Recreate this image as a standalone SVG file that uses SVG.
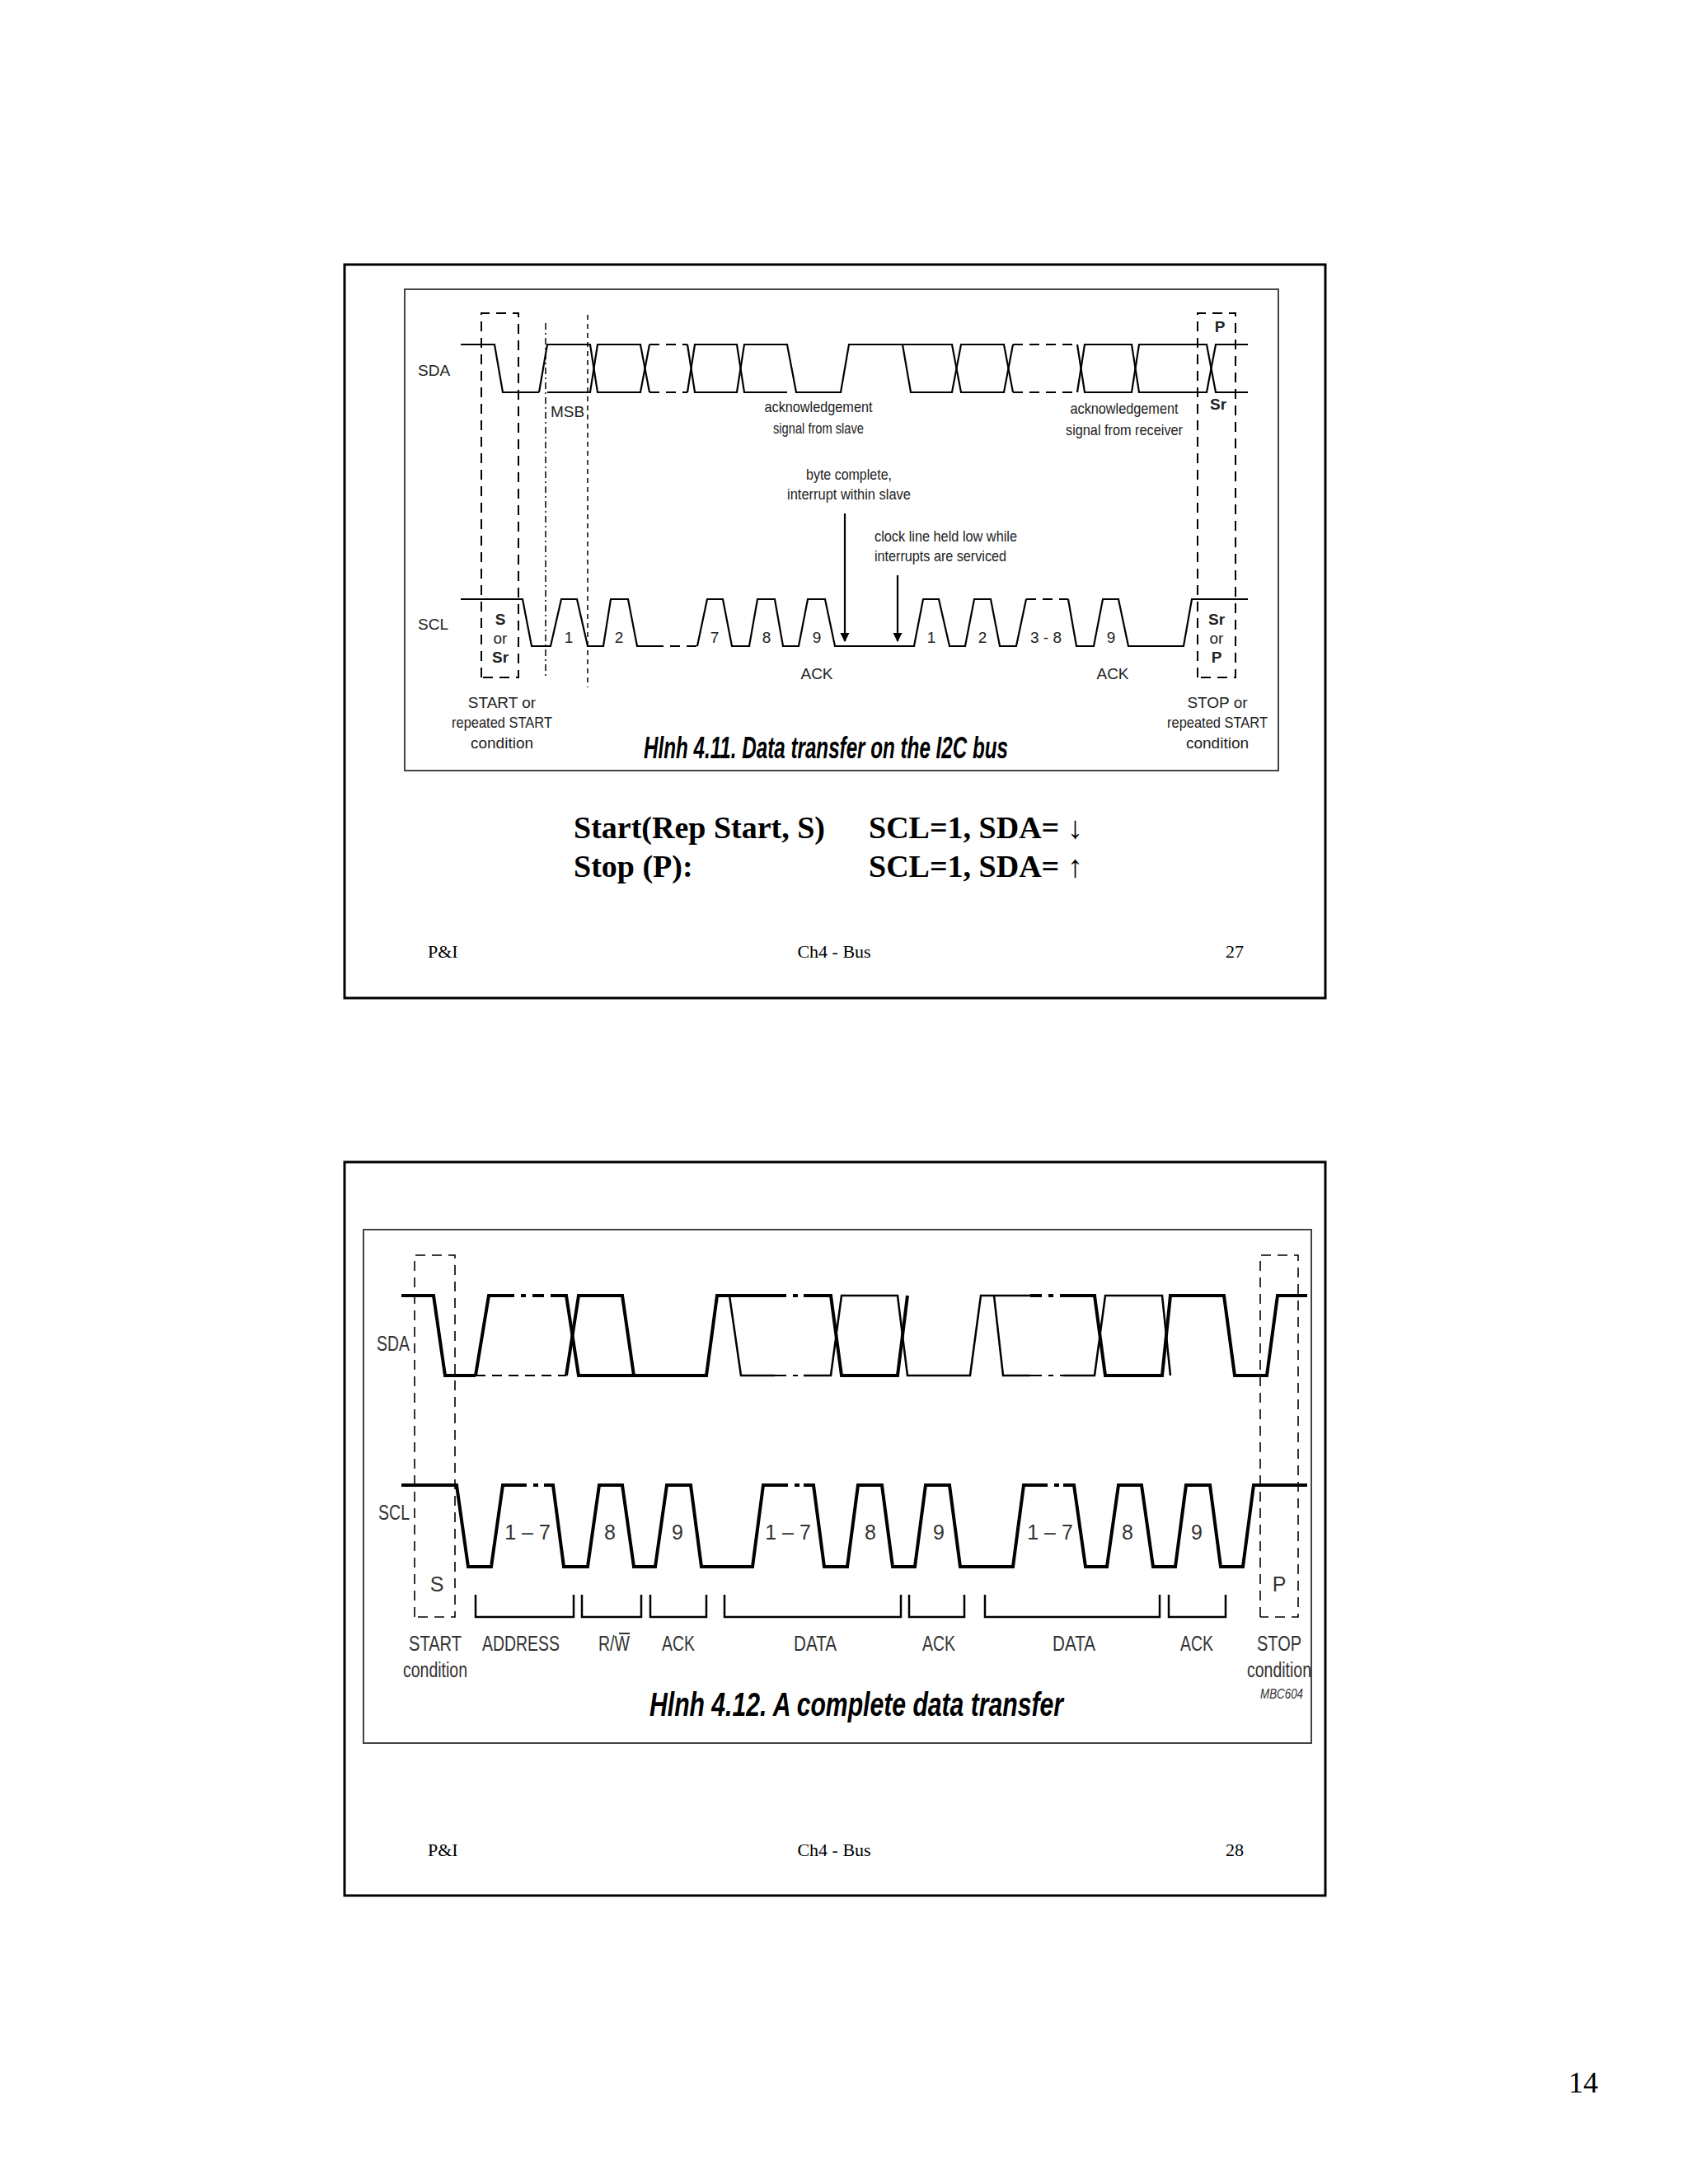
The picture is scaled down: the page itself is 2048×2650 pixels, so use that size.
<svg xmlns="http://www.w3.org/2000/svg" width="2048" height="2650" viewBox="0 0 2048 2650">
<style>
.frame{fill:none;stroke:#000;stroke-width:3}
.inner{fill:none;stroke:#444;stroke-width:2}
.sig{fill:none;stroke:#000;stroke-width:2.2}
.sigt{fill:none;stroke:#000;stroke-width:4}
.sigb{fill:none;stroke:#000;stroke-width:2.5}
.dash{fill:none;stroke:#000;stroke-width:2;stroke-dasharray:12 8}
.dashdot{fill:none;stroke:#000;stroke-width:1.5;stroke-dasharray:8 4 2 4}
.dot{fill:none;stroke:#000;stroke-width:1.5;stroke-dasharray:6 5}
.lbl{font-family:"Liberation Sans",Arial,sans-serif;font-size:19px;fill:#222}
.lbl2{font-family:"Liberation Sans",Arial,sans-serif;font-size:25px;fill:#333}
.cap{font-family:"Liberation Sans",Arial,sans-serif;font-size:36px;font-style:italic;font-weight:bold;fill:#000}
.tb{font-family:"Liberation Serif","Times New Roman",serif;font-size:38px;font-weight:bold;fill:#000}
.ft{font-family:"Liberation Serif","Times New Roman",serif;font-size:22px;fill:#000}
.bold{font-weight:bold}
</style>
<defs>
<marker id="ah" viewBox="0 0 10 10" refX="9" refY="5" markerWidth="5" markerHeight="6" orient="auto"><path d="M0,0 L10,5 L0,10 z" fill="#000"/></marker>
</defs>
<rect width="2048" height="2650" fill="#fff"/>

<!-- Slide 27 -->
<g id="slide27">
<rect class="frame" x="418" y="321" width="1190" height="890"/>
<rect class="inner" x="491" y="351" width="1060" height="584"/>
</g>
<g id="connectors-top">
<polyline class="sig" points="559,418 600,418 610,476 654,476"/>
<polyline class="sig" points="654,476 664,418 716,418 725,476 777,476 788,418"/>
<polyline class="sig" points="664,476 716,476 725,418 777,418 788,476"/>
<line class="dash" x1="788" y1="418" x2="834" y2="418"/>
<line class="dash" x1="788" y1="476" x2="834" y2="476"/>
<polyline class="sig" points="834,418 843,476 894,476 903,418 955,418 966,476 1020,476 1030,418 1155,418 1166,476 1218,476 1229,418"/>
<polyline class="sig" points="834,476 843,418 894,418 903,476 955,476"/>
<polyline class="sig" points="1095,418 1105,476 1155,476 1166,418 1218,418 1229,476"/>
<line class="dash" x1="1229" y1="418" x2="1307" y2="418"/>
<line class="dash" x1="1229" y1="476" x2="1307" y2="476"/>
<polyline class="sig" points="1307,418 1316,476 1373,476 1382,418 1464,418 1475,476 1514,476"/>
<polyline class="sig" points="1307,476 1316,418 1373,418 1382,476 1464,476 1475,418 1514,418"/>
<polyline class="sig" points="559,727 634,727 645,784 668,784 681,727 700,727 713,784 732,784 741,727 762,727 773,784 793,784"/>
<line class="dash" x1="793" y1="784" x2="846" y2="784"/>
<polyline class="sig" points="846,784 858,727 877,727 888,784 909,784 919,727 940,727 950,784 969,784 980,727 1001,727 1013,784 1109,784 1120,727 1139,727 1152,784 1171,784 1182,727 1202,727 1213,784 1233,784 1245,727"/>
<line class="dash" x1="1245" y1="727" x2="1296" y2="727"/>
<polyline class="sig" points="1296,727 1306,784 1327,784 1338,727 1357,727 1369,784 1436,784 1446,727 1514,727"/>
<polyline class="dash" points="584,822 584,380 629,380 629,822 584,822"/>
<polyline class="dash" points="1453,822 1453,380 1499,380 1499,822 1453,822"/>
<line class="dashdot" x1="662" y1="392" x2="662" y2="824"/>
<line class="dot" x1="713" y1="382" x2="713" y2="834"/>
<line class="sig" x1="1025" y1="623" x2="1025" y2="778" marker-end="url(#ah)"/>
<line class="sig" x1="1089" y1="698" x2="1089" y2="778" marker-end="url(#ah)"/>
</g>
<g id="labels-top">
<text class="lbl" x="507" y="456">SDA</text>
<text class="lbl" x="507" y="764">SCL</text>
<text class="lbl" x="668" y="506">MSB</text>
<text class="lbl bold" x="607" y="758" text-anchor="middle">S</text>
<text class="lbl" x="607" y="781" text-anchor="middle">or</text>
<text class="lbl bold" x="607" y="804" text-anchor="middle">Sr</text>
<text class="lbl" x="690" y="780" text-anchor="middle">1</text>
<text class="lbl" x="751" y="780" text-anchor="middle">2</text>
<text class="lbl" x="867" y="780" text-anchor="middle">7</text>
<text class="lbl" x="930" y="780" text-anchor="middle">8</text>
<text class="lbl" x="991" y="780" text-anchor="middle">9</text>
<text class="lbl" x="991" y="824" text-anchor="middle">ACK</text>
<text class="lbl" x="1130" y="780" text-anchor="middle">1</text>
<text class="lbl" x="1192" y="780" text-anchor="middle">2</text>
<text class="lbl" x="1269" y="780" text-anchor="middle">3 - 8</text>
<text class="lbl" x="1348" y="780" text-anchor="middle">9</text>
<text class="lbl" x="1350" y="824" text-anchor="middle">ACK</text>
<text class="lbl" x="993" y="500" text-anchor="middle" textLength="131" lengthAdjust="spacingAndGlyphs">acknowledgement</text>
<text class="lbl" x="993" y="526" text-anchor="middle" textLength="110" lengthAdjust="spacingAndGlyphs">signal from slave</text>
<text class="lbl" x="1364" y="502" text-anchor="middle" textLength="131" lengthAdjust="spacingAndGlyphs">acknowledgement</text>
<text class="lbl" x="1364" y="528" text-anchor="middle" textLength="142" lengthAdjust="spacingAndGlyphs">signal from receiver</text>
<text class="lbl" x="1030" y="582" text-anchor="middle" textLength="104" lengthAdjust="spacingAndGlyphs">byte complete,</text>
<text class="lbl" x="1030" y="606" text-anchor="middle" textLength="150" lengthAdjust="spacingAndGlyphs">interrupt within slave</text>
<text class="lbl" x="1061" y="657" textLength="173" lengthAdjust="spacingAndGlyphs">clock line held low while</text>
<text class="lbl" x="1061" y="681" textLength="160" lengthAdjust="spacingAndGlyphs">interrupts are serviced</text>
<text class="lbl bold" x="1480" y="403" text-anchor="middle">P</text>
<text class="lbl bold" x="1478" y="497" text-anchor="middle">Sr</text>
<text class="lbl bold" x="1476" y="758" text-anchor="middle">Sr</text>
<text class="lbl" x="1476" y="781" text-anchor="middle">or</text>
<text class="lbl bold" x="1476" y="804" text-anchor="middle">P</text>
<text class="lbl" x="609" y="859" text-anchor="middle">START or</text>
<text class="lbl" x="609" y="883" text-anchor="middle" textLength="122" lengthAdjust="spacingAndGlyphs">repeated START</text>
<text class="lbl" x="609" y="908" text-anchor="middle">condition</text>
<text class="lbl" x="1477" y="859" text-anchor="middle">STOP or</text>
<text class="lbl" x="1477" y="883" text-anchor="middle" textLength="122" lengthAdjust="spacingAndGlyphs">repeated START</text>
<text class="lbl" x="1477" y="908" text-anchor="middle">condition</text>
<text class="cap" x="781" y="920" textLength="442" lengthAdjust="spacingAndGlyphs">Hlnh 4.11. Data transfer on the I2C bus</text>
<text class="tb" x="696" y="1017">Start(Rep Start, S)</text>
<text class="tb" x="1054" y="1017">SCL=1, SDA= ↓</text>
<text class="tb" x="696" y="1064">Stop (P):</text>
<text class="tb" x="1054" y="1064">SCL=1, SDA= ↑</text>
<text class="ft" x="519" y="1162">P&amp;I</text>
<text class="ft" x="1012" y="1162" text-anchor="middle">Ch4 - Bus</text>
<text class="ft" x="1487" y="1162">27</text>
</g>

<!-- Slide 28 -->
<g id="slide28">
<rect class="frame" x="418" y="1410" width="1190" height="890"/>
<rect class="inner" x="441" y="1492" width="1150" height="623"/>
</g>
<g id="connectors-bottom">
<polyline class="sigt" points="487,1572 526,1572 540,1669 577,1669"/>
<line class="dash" x1="577" y1="1669" x2="687" y2="1669"/>
<polyline class="sigt" points="577,1669 593,1572 610,1572"/>
<line class="dashdot" x1="610" y1="1572" x2="672" y2="1572" style="stroke-width:4;stroke-dasharray:14 8 6 8"/>
<polyline class="sigt" points="672,1572 687,1572 702,1669 857,1669 870,1572 940,1572"/>
<polyline class="sigt" points="687,1669 702,1572 755,1572 769,1669"/>
<line class="dashdot" x1="940" y1="1572" x2="975" y2="1572" style="stroke-width:4;stroke-dasharray:14 8 6 8"/>
<polyline class="sigt" points="975,1572 1008,1572 1021,1669 1089,1669 1101,1572"/>
<polyline class="sigb" points="885,1572 899,1669 940,1669"/>
<line class="dashdot" x1="940" y1="1669" x2="975" y2="1669" style="stroke-width:2;stroke-dasharray:14 8 6 8"/>
<polyline class="sigb" points="975,1669 1008,1669 1021,1572 1089,1572 1101,1669 1177,1669 1190,1572 1250,1572"/>
<line class="dashdot" x1="1250" y1="1572" x2="1290" y2="1572" style="stroke-width:4;stroke-dasharray:14 8 6 8"/>
<polyline class="sigt" points="1290,1572 1328,1572 1341,1669 1410,1669 1420,1572 1485,1572 1498,1669 1537,1669 1550,1572 1586,1572"/>
<polyline class="sigb" points="1206,1572 1217,1669 1250,1669"/>
<line class="dashdot" x1="1250" y1="1669" x2="1290" y2="1669" style="stroke-width:2;stroke-dasharray:14 8 6 8"/>
<polyline class="sigb" points="1290,1669 1328,1669 1341,1572 1410,1572 1420,1669"/>
<polyline class="sigt" points="487,1802 554,1802 568,1901 596,1901 610,1802 625,1802"/>
<line class="dashdot" x1="625" y1="1802" x2="660" y2="1802" style="stroke-width:4;stroke-dasharray:14 8 6 8"/>
<polyline class="sigt" points="660,1802 671,1802 684,1901 713,1901 727,1802 755,1802 769,1901 795,1901 809,1802 838,1802 851,1901 913,1901 926,1802 942,1802"/>
<line class="dashdot" x1="942" y1="1802" x2="975" y2="1802" style="stroke-width:4;stroke-dasharray:14 8 6 8"/>
<polyline class="sigt" points="975,1802 987,1802 1000,1901 1028,1901 1041,1802 1070,1802 1083,1901 1110,1901 1123,1802 1152,1802 1165,1901 1229,1901 1242,1802 1257,1802"/>
<line class="dashdot" x1="1257" y1="1802" x2="1290" y2="1802" style="stroke-width:4;stroke-dasharray:14 8 6 8"/>
<polyline class="sigt" points="1290,1802 1303,1802 1317,1901 1343,1901 1357,1802 1385,1802 1399,1901 1426,1901 1439,1802 1468,1802 1481,1901 1508,1901 1521,1802 1586,1802"/>
<polyline class="dash" points="503,1962 503,1523 552,1523 552,1962 503,1962" style="stroke-width:1.6"/>
<polyline class="dash" points="1529,1962 1529,1523 1575,1523 1575,1962 1529,1962" style="stroke-width:1.6"/>
<polyline class="sigb" points="577,1935 577,1962 696,1962 696,1935"/>
<polyline class="sigb" points="706,1935 706,1962 778,1962 778,1935"/>
<polyline class="sigb" points="789,1935 789,1962 857,1962 857,1935"/>
<polyline class="sigb" points="879,1935 879,1962 1093,1962 1093,1935"/>
<polyline class="sigb" points="1103,1935 1103,1962 1170,1962 1170,1935"/>
<polyline class="sigb" points="1195,1935 1195,1962 1407,1962 1407,1935"/>
<polyline class="sigb" points="1418,1935 1418,1962 1487,1962 1487,1935"/>
</g>
<g id="labels-bottom">
<text class="lbl2" x="497" y="1639" text-anchor="end" textLength="40" lengthAdjust="spacingAndGlyphs">SDA</text>
<text class="lbl2" x="497" y="1844" text-anchor="end" textLength="38" lengthAdjust="spacingAndGlyphs">SCL</text>
<text class="lbl2" x="640" y="1868" text-anchor="middle">1 – 7</text>
<text class="lbl2" x="740" y="1868" text-anchor="middle">8</text>
<text class="lbl2" x="822" y="1868" text-anchor="middle">9</text>
<text class="lbl2" x="956" y="1868" text-anchor="middle">1 – 7</text>
<text class="lbl2" x="1056" y="1868" text-anchor="middle">8</text>
<text class="lbl2" x="1139" y="1868" text-anchor="middle">9</text>
<text class="lbl2" x="1274" y="1868" text-anchor="middle">1 – 7</text>
<text class="lbl2" x="1368" y="1868" text-anchor="middle">8</text>
<text class="lbl2" x="1452" y="1868" text-anchor="middle">9</text>
<text class="lbl2" x="530" y="1931" text-anchor="middle">S</text>
<text class="lbl2" x="1552" y="1931" text-anchor="middle">P</text>
<text class="lbl2" x="528" y="2003" text-anchor="middle" textLength="64" lengthAdjust="spacingAndGlyphs">START</text>
<text class="lbl2" x="528" y="2035" text-anchor="middle" textLength="78" lengthAdjust="spacingAndGlyphs">condition</text>
<text class="lbl2" x="632" y="2003" text-anchor="middle" textLength="94" lengthAdjust="spacingAndGlyphs">ADDRESS</text>
<text class="lbl2" x="745" y="2003" text-anchor="middle" textLength="38" lengthAdjust="spacingAndGlyphs">R/W</text>
<line x1="751" y1="1982" x2="764" y2="1982" stroke="#333" stroke-width="2"/>
<text class="lbl2" x="823" y="2003" text-anchor="middle" textLength="40" lengthAdjust="spacingAndGlyphs">ACK</text>
<text class="lbl2" x="989" y="2003" text-anchor="middle" textLength="52" lengthAdjust="spacingAndGlyphs">DATA</text>
<text class="lbl2" x="1139" y="2003" text-anchor="middle" textLength="40" lengthAdjust="spacingAndGlyphs">ACK</text>
<text class="lbl2" x="1303" y="2003" text-anchor="middle" textLength="52" lengthAdjust="spacingAndGlyphs">DATA</text>
<text class="lbl2" x="1452" y="2003" text-anchor="middle" textLength="40" lengthAdjust="spacingAndGlyphs">ACK</text>
<text class="lbl2" x="1552" y="2003" text-anchor="middle" textLength="54" lengthAdjust="spacingAndGlyphs">STOP</text>
<text class="lbl2" x="1552" y="2035" text-anchor="middle" textLength="78" lengthAdjust="spacingAndGlyphs">condition</text>
<text class="lbl2" x="1555" y="2061" text-anchor="middle" style="font-size:16px;font-style:italic" textLength="52" lengthAdjust="spacingAndGlyphs">MBC604</text>
<text class="cap" x="788" y="2082" textLength="502" lengthAdjust="spacingAndGlyphs" style="font-size:40px">Hlnh 4.12. A complete data transfer</text>
<text class="ft" x="519" y="2252">P&amp;I</text>
<text class="ft" x="1012" y="2252" text-anchor="middle">Ch4 - Bus</text>
<text class="ft" x="1487" y="2252">28</text>
</g>
<text class="ft" x="1921" y="2539" text-anchor="middle" style="font-size:36px">14</text>
</svg>
